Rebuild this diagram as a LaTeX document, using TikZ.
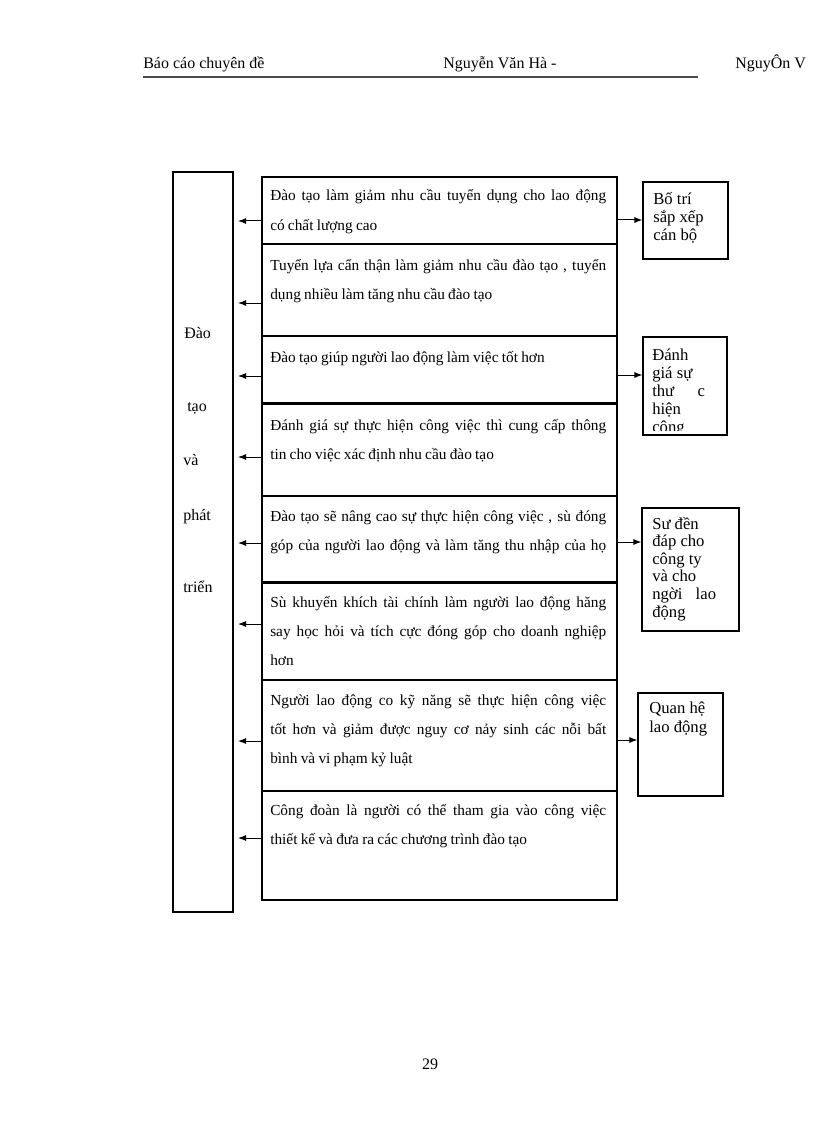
\documentclass[tikz,border=0pt]{standalone}
\usepackage{fontspec}
\setmainfont{Liberation Serif}
\newfontfamily\mfont{Liberation Serif}[WordSpace=0.85]
\usetikzlibrary{arrows.meta,fit}
\newlength{\jw}
\setlength{\jw}{252pt}
\newcommand{\jl}[1]{\makebox[\jw][s]{#1}}
\begin{document}
\begin{tikzpicture}[x=0.75pt,y=-0.75pt,
  frame/.style={draw,line width=0.8pt,inner sep=0pt},
  mtext/.style={anchor=base west,align=left,inner sep=0pt,font=\mfont\fontsize{11.5}{21.75}\selectfont},
  rtext/.style={anchor=base west,align=left,inner sep=0pt,font=\fontsize{12.5}{13.2}\selectfont},
  ltext/.style={anchor=base west,inner sep=0pt,font=\fontsize{12}{14}\selectfont},
  htext/.style={anchor=base west,inner sep=0pt,font=\fontsize{12}{14}\selectfont},
  arr/.style={line width=0.75pt,-{Latex[length=6pt,width=4.5pt]}}]
\useasboundingbox (0,0) rectangle (816,1123);
% header
\node[htext] (h1) at (143,69) {Báo cáo chuyên đề};
\node[htext] (h2) at (443,69) {Nguyễn Văn Hà -};
\node[htext] (h3) at (735,69) {NguyÔn V};
\coordinate (u1) at (143,77);
\coordinate (u2) at (698,77);
\draw[line width=1.5pt,black!70] (u1) -- (u2);
% left box
\node[frame,fit={(173,172) (233,912)}] (L) {};
\node[ltext] (l1) at (184,338) {Đào};
\node[ltext] (l2) at (187,411) {tạo};
\node[ltext] (l3) at (183,465) {và};
\node[ltext] (l4) at (183,520) {phát};
\node[ltext] (l5) at (183,592) {triển};
% middle rows
\node[frame,fit={(262,177) (617,244)}] (r1) {};
\node[frame,fit={(262,244) (617,336)}] (r2) {};
\node[frame,fit={(262,336) (617,404)}] (r3) {};
\node[frame,fit={(262,404) (617,496)}] (r4) {};
\node[frame,fit={(262,496) (617,583)}] (r5) {};
\node[frame,fit={(262,583) (617,680)}] (r6) {};
\node[frame,fit={(262,680) (617,791)}] (r7) {};
\node[frame,fit={(262,791) (617,900)}] (r8) {};
\draw[line width=1.5pt] (r4.north west) -- (r4.north east);
\draw[line width=1.5pt] (r6.north west) -- (r6.north east);
% (anchors are at the baseline of the last line)
\node[mtext] (t1) at (270,230) {\jl{Đào tạo làm giảm nhu cầu tuyển dụng cho lao động}\\có chất lượng cao};
\node[mtext] (t2) at (270,299) {\jl{Tuyển lựa cẩn thận làm giảm nhu cầu đào tạo , tuyển}\\dụng nhiều làm tăng nhu cầu đào tạo};
\node[mtext] (t3) at (270,362) {Đào tạo giúp người lao động làm việc tốt hơn};
\node[mtext] (t4) at (270,459) {\jl{Đánh giá sự thực hiện công việc thì cung cấp thông}\\tin cho việc xác định nhu cầu đào tạo};
\node[mtext] (t5) at (270,550) {\jl{Đào tạo sẽ nâng cao sự thực hiện công việc , sù đóng}\\\jl{góp của người lao động và làm tăng thu nhập của họ}};
\node[mtext] (t6) at (270,665) {\jl{Sù khuyến khích tài chính làm người lao động hăng}\\\jl{say học hỏi và tích cực đóng góp cho doanh nghiệp}\\hơn};
\node[mtext] (t7) at (270,763) {\jl{Người lao động co kỹ năng sẽ thực hiện công việc}\\\jl{tốt hơn và giảm được nguy cơ nảy sinh các nỗi bất}\\bình và vi phạm kỷ luật};
\node[mtext] (t8) at (270,844) {\jl{Công đoàn là người có thể tham gia vào công việc}\\thiết kế và đưa ra các chương trình đào tạo};
% left arrows
\foreach \r/\yy in {r1/221,r2/303,r3/376,r4/457,r5/543,r6/624,r7/741,r8/838}{
  \coordinate (e\r) at (238,\yy);
  \draw[arr] (\r.west |- e\r) -- (e\r);
}
% right boxes
\node[frame,fit={(643,182) (728,259)}] (b1) {};
\node[frame,fit={(643,337) (727,435)}] (b2) {};
\node[frame,fit={(642,508) (739,631)}] (b3) {};
\node[frame,fit={(638,693) (723,796)}] (b4) {};
\node[rtext] (s1) at (653,240) {Bố trí\\sắp xếp\\cán bộ};
\coordinate (k1) at (643,337);
\coordinate (k2) at (727,430);
\begin{scope}
\clip (k1) rectangle (k2);
\node[rtext,font=\fontsize{12.5}{13.5}\selectfont] (s2) at (652,432) {Đánh\\giá sự\\thư\hspace{1.4em}c\\hiện\\công};
\end{scope}
\draw[line width=0.8pt] (b2.south west) rectangle (b2.north east);
\node[rtext] (s3) at (652,617) {Sư đền\\đáp cho\\công ty\\và cho\\ngời\hspace{0.8em}lao\\động};
\node[rtext,font=\fontsize{12.5}{14.2}\selectfont] (s4) at (649,732) {Quan hệ\\lao động};
% right arrows
\coordinate (c1) at (617,220);
\coordinate (c2) at (617,375);
\coordinate (c3) at (617,542);
\coordinate (c4) at (617,740);
\draw[arr] (c1) -- (b1.west |- c1);
\draw[arr] (c2) -- (b2.west |- c2);
\draw[arr] (c3) -- (b3.west |- c3);
\draw[arr] (c4) -- (b4.west |- c4);
% page number
\node[htext,anchor=base] (pg) at (430,1069) {29};
\end{tikzpicture}
\end{document}
